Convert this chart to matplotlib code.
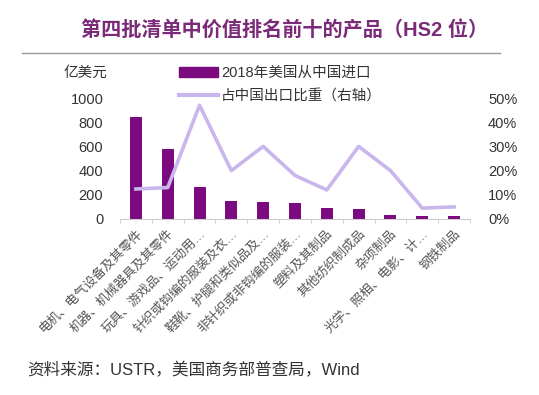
import matplotlib
matplotlib.use('Agg')
import matplotlib.pyplot as plt
import matplotlib.transforms as mtransforms
from matplotlib.lines import Line2D
from matplotlib.ticker import FixedLocator

plt.rcParams['font.family'] = ['Liberation Sans', 'Noto Sans CJK SC']

categories = ['电机、电气设备及其零件', '机器、机械器具及其零件', '玩具、游戏品、运动用…',
              '针织或钩编的服装及衣…', '鞋靴、护腿和类似品及…', '非针织或非钩编的服装…',
              '塑料及其制品', '其他纺织制成品', '杂项制品', '光学、照相、电影、计…', '钢铁制品']
imports = [845, 580, 265, 150, 140, 130, 95, 80, 30, 25, 25]
share = [12.4, 13.0, 47.0, 20.0, 30.0, 18.0, 12.0, 30.0, 20.0, 4.5, 5.0]
left_ticks = [0, 200, 400, 600, 800, 1000]
right_ticks = [0, 10, 20, 30, 40, 50]

bar_color = '#7a0a7e'
line_color = '#c9b6ec'
text_color = '#333333'

fig = plt.figure(figsize=(5.39, 3.95), dpi=100)
fig.patch.set_facecolor('white')

ax = fig.add_axes([120 / 539, 1 - 219 / 395, 350 / 539, 121 / 395])
x = list(range(len(categories)))
ax.bar(x, imports, width=0.38, color=bar_color, zorder=2)
ax.set_xlim(-0.5, len(categories) - 0.5)
ax.set_ylim(0, 1000)
ax.set_yticks(left_ticks)
ax.set_yticklabels([str(v) for v in left_ticks], fontsize=10.5, color=text_color)
ax.set_xticks(x)
ax.set_xticklabels(categories, rotation=45, ha='right', va='top', rotation_mode='anchor',
                   fontsize=9.2, color='#555555')
shift = mtransforms.ScaledTranslation(4 / 100, -13 / 100, fig.dpi_scale_trans)
for lab in ax.get_xticklabels():
    lab.set_transform(lab.get_transform() + shift)
ax.xaxis.set_minor_locator(FixedLocator([i + 0.5 for i in range(-1, len(categories))]))
ax.tick_params(axis='x', which='major', length=0, pad=6)
ax.tick_params(axis='x', which='minor', length=3, color='#cccccc', direction='out')
ax.tick_params(axis='y', length=0, pad=12)
for s in ['top', 'right', 'left']:
    ax.spines[s].set_visible(False)
ax.spines['bottom'].set_color('#cccccc')

ax2 = ax.twinx()
ax2.plot(x, share, color=line_color, lw=2.6, zorder=3)
ax2.set_ylim(0, 50)
ax2.set_yticks(right_ticks)
ax2.set_yticklabels(['%d%%' % v for v in right_ticks], fontsize=10.5, color=text_color)
ax2.tick_params(axis='y', length=0, pad=13)
for s in ['top', 'right', 'left', 'bottom']:
    ax2.spines[s].set_visible(False)

# legend
handles = [plt.Rectangle((0, 0), 1, 1, color=bar_color),
           Line2D([0], [0], color=line_color, lw=3)]
fig.legend(handles, ['2018年美国从中国进口', '占中国出口比重（右轴）'],
           loc='upper left', bbox_to_anchor=(173 / 539, 1 - 60 / 395), frameon=False,
           fontsize=10.5, handlelength=2.7, handletextpad=0.2, labelspacing=0.65,
           labelcolor=text_color, borderaxespad=0)

fig.text(107 / 539, 1 - 73 / 395, '亿美元', ha='right', va='center', fontsize=10.5, color=text_color)

fig.text(285 / 539, 1 - 30 / 395, '第四批清单中价值排名前十的产品（HS2 位）', ha='center', va='center',
         fontsize=14.5, fontweight='bold', color='#7b2a78')
fig.add_artist(Line2D([22 / 539, 500 / 539], [1 - 53 / 395, 1 - 53 / 395], color='#999999', lw=1))

fig.text(27 / 539, 1 - 370 / 395, '资料来源：USTR，美国商务部普查局，Wind', ha='left', va='center',
         fontsize=12, color=text_color)

fig.savefig('out.png', dpi=100)
